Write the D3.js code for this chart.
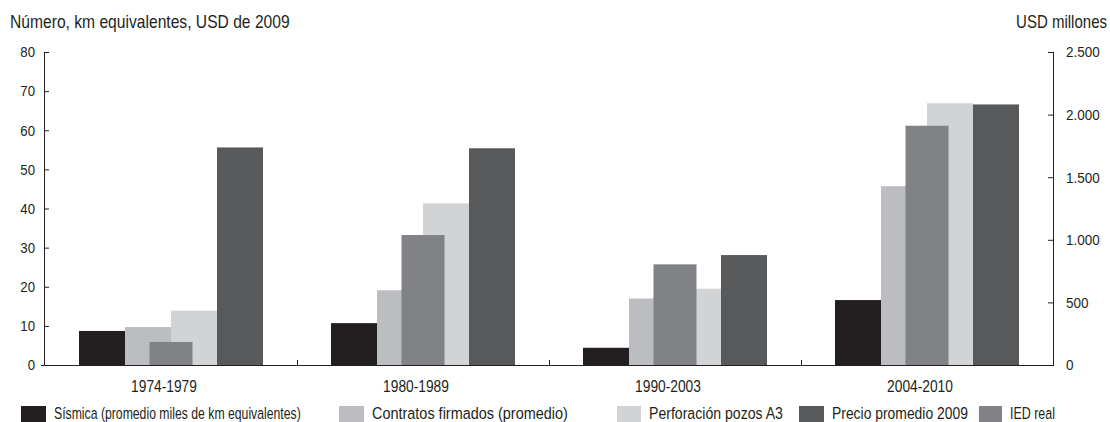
<!DOCTYPE html>
<html><head><meta charset="utf-8">
<script src="https://cdn.jsdelivr.net/npm/d3@7"></script>
<style>
html,body{margin:0;padding:0;background:#fff;}
text{font-family:"Liberation Sans",Arial,sans-serif;fill:#231f20;}
</style></head>
<body>
<svg id="chart" width="1110" height="422"></svg>
<script>
const categories = ["1974-1979","1980-1989","1990-2003","2004-2010"];
const sismica    = [8.7, 10.7, 4.4, 16.6];
const contratos  = [9.7, 19.1, 17.0, 45.7];
const perforacion= [13.9, 41.3, 19.5, 66.9];
const precio     = [55.6, 55.4, 28.1, 66.6];
const iedReal    = [184, 1038, 804, 1911];   // USD millones, right axis
const leftTicks  = [0,10,20,30,40,50,60,70,80];
const rightTicks = [0,500,1000,1500,2000,2500];
const seriesNames = ["Sísmica (promedio miles de km equivalentes)","Contratos firmados (promedio)","Perforación pozos A3","Precio promedio 2009","IED real"];

// layout / style
const colors = {sis:"#231f20", con:"#bcbdc0", per:"#d1d3d4", pre:"#58595b", ied:"#808285"};
const legendKeys = ["sis","con","per","pre","ied"];
const legendX = [21, 339, 617, 799, 979];
const legendSwatchW = [25, 25, 24, 25, 23];
const legendTextW = [247, 196, 134, 136, 45];

const leftSeries = [
  {key:"sis", values:sismica},
  {key:"con", values:contratos},
  {key:"per", values:perforacion},
  {key:"pre", values:precio}
];

const svg = d3.select("#chart");
const x0 = 45, x1 = 1053, yTop = 52, yBase = 365;

const x = d3.scaleBand().domain(categories).range([x0, x1]).padding(0);
const xs = d3.scaleBand().domain(leftSeries.map(s=>s.key)).range([34, 218]).padding(0);
const yL = d3.scaleLinear().domain([0,80]).range([yBase, yTop]);
const yR = d3.scaleLinear().domain([0,2500]).range([yBase, yTop]);

const loc = d3.formatLocale({decimal:",", thousands:".", grouping:[3], currency:["",""]});
const fmtR = loc.format(",d");

// horizontal squeeze via transform (narrow typeface look)
function squeezeNode(node, f){
  const xx = +node.getAttribute("x") || 0;
  const yy = +node.getAttribute("y") || 0;
  node.setAttribute("x", 0);
  node.setAttribute("y", 0);
  node.setAttribute("transform", `translate(${xx},${yy}) scale(${f.toFixed(4)},1)`);
}
function condense(sel, f){ sel.each(function(){ squeezeNode(this, f); }); }
function fitWidth(sel, w){ sel.each(function(){ squeezeNode(this, w / this.getComputedTextLength()); }); }

// bars (left axis)
leftSeries.forEach(s=>{
  svg.append("g").selectAll("rect").data(categories).join("rect")
    .attr("x", (c)=> x(c) + xs(s.key))
    .attr("width", xs.bandwidth())
    .attr("y", (c,i)=> yL(s.values[i]))
    .attr("height", (c,i)=> yBase - yL(s.values[i]))
    .attr("fill", colors[s.key]);
});
// IED real (right axis), narrower overlay bar
const iedW = 43;
svg.append("g").selectAll("rect").data(categories).join("rect")
  .attr("x", c=> x(c) + 126 - iedW/2)
  .attr("width", iedW)
  .attr("y", (c,i)=> yR(iedReal[i]))
  .attr("height", (c,i)=> yBase - yR(iedReal[i]))
  .attr("fill", colors.ied);

// left axis
const gL = svg.append("g").attr("transform",`translate(44,0)`)
  .call(d3.axisLeft(yL).tickValues(leftTicks).tickSize(-5).tickPadding(9).tickFormat(d3.format("d")));
gL.select(".domain").remove();
gL.append("line").attr("x1",0.5).attr("x2",0.5).attr("y1",yTop).attr("y2",yBase).attr("stroke","#231f20");
gL.selectAll(".tick line").attr("stroke","#231f20");
gL.selectAll(".tick text").attr("font-size",15).attr("font-family",null);
condense(gL.selectAll(".tick text"), 0.88);

// right axis
const gR = svg.append("g").attr("transform",`translate(1053,0)`)
  .call(d3.axisRight(yR).tickValues(rightTicks).tickSize(-5).tickPadding(13).tickFormat(fmtR));
gR.select(".domain").remove();
gR.append("line").attr("x1",0.5).attr("x2",0.5).attr("y1",yTop).attr("y2",yBase).attr("stroke","#231f20");
gR.selectAll(".tick line").attr("stroke","#231f20");
gR.selectAll(".tick text").attr("font-size",15).attr("font-family",null);
condense(gR.selectAll(".tick text"), 0.9);

// x axis
svg.append("line").attr("x1",41).attr("x2",1054).attr("y1",yBase+0.5).attr("y2",yBase+0.5).attr("stroke","#231f20");
svg.append("g").selectAll("line").data(categories.slice(1)).join("line")
  .attr("x1", c=> Math.round(x(c))+0.5).attr("x2", c=> Math.round(x(c))+0.5)
  .attr("y1", yBase).attr("y2", yBase-5).attr("stroke","#231f20");
const catLabels = svg.append("g").selectAll("text").data(categories).join("text")
  .attr("x", c=> x(c) + x.bandwidth()/2 - 7)
  .attr("y", 392).attr("text-anchor","middle").attr("font-size",17)
  .text(c=>c);
condense(catLabels, 0.81);

// titles
const title = svg.append("text").attr("x",10).attr("y",28).attr("font-size",17.5).text("Número, km equivalentes, USD de 2009");
fitWidth(title, 280);
const rTitle = svg.append("text").attr("x",1107).attr("y",28).attr("font-size",17.5).attr("text-anchor","end").text("USD millones");
fitWidth(rTitle, 91);

// legend
const lg = svg.append("g");
legendKeys.forEach((k,i)=>{
  lg.append("rect").attr("x",legendX[i]).attr("y",406).attr("width",legendSwatchW[i]).attr("height",16).attr("fill",colors[k]);
  const t = lg.append("text").attr("x",legendX[i]+legendSwatchW[i]+8).attr("y",419).attr("font-size",17).text(seriesNames[i]);
  fitWidth(t, legendTextW[i]);
});
</script>
</body></html>
